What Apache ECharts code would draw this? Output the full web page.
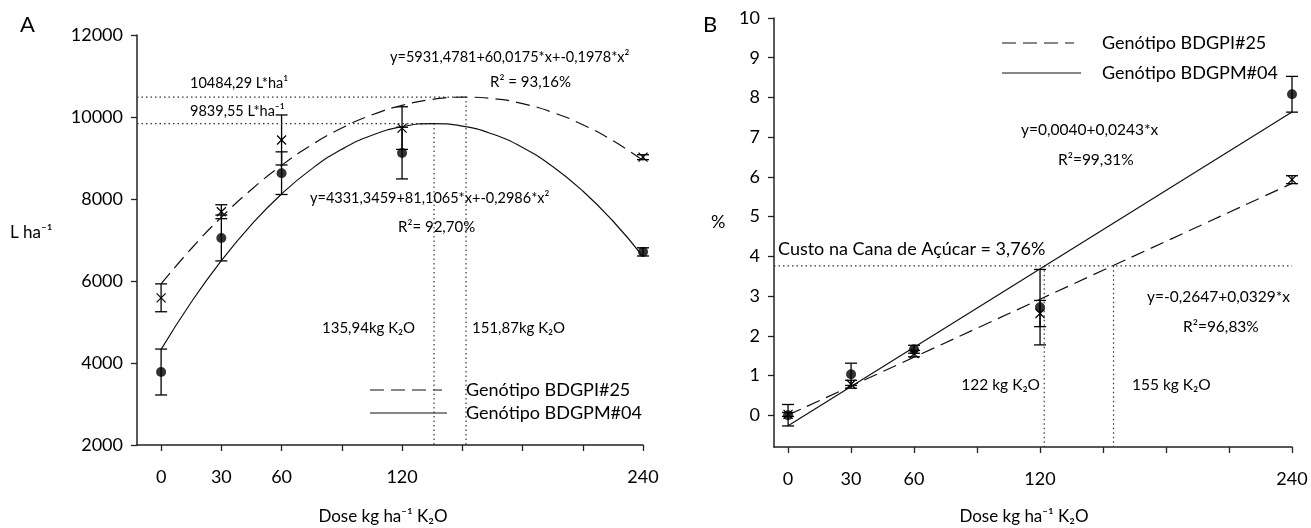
<!DOCTYPE html>
<html lang="pt">
<head>
  <meta charset="UTF-8">
  <title>Dose K2O</title>
  <script src="https://cdn.jsdelivr.net/npm/echarts@6/dist/echarts.min.js"></script>
  <style>
    * { margin: 0; padding: 0; }
    body { background: #fff; }
    #chart { width: 1311px; height: 528px; }
  </style>
</head>
<body>
  <div id="chart"></div>
  <script>
    // doses de K2O (kg/ha)
    const doses = [0, 30, 60, 120, 240];
    const xTicks = [0, 30, 60, 90, 120, 150, 180, 210, 240];
    const xLabels = [0, 30, 60, 120, 240];

    // painel A - L/ha (media e erro)
    const litrosM04 = [3780, 7050, 8630, 9120, 6710];
    const errLitrosM04 = [560, 560, 520, 630, 100];
    const litrosI25 = [5590, 7690, 9440, 9730, 9020];
    const errLitrosI25 = [340, 170, 610, 520, 60];

    // curvas ajustadas do painel A
    const doseCurva = [0, 15, 30, 45, 60, 75, 90, 105, 120, 135, 150, 165, 180, 195, 210, 225, 240];
    const curvaI25 = [5931, 6787, 7554, 8232, 8820, 9320, 9731, 10052, 10285, 10429, 10483, 10449, 10326, 10113, 9812, 9422, 8942];
    const curvaM04 = [4331, 5481, 6496, 7376, 8123, 8735, 9212, 9555, 9764, 9839, 9779, 9584, 9256, 8793, 8195, 7463, 6597];
    const maxI25 = [151.87, 10484.29];
    const maxM04 = [135.94, 9839.55];

    // painel B - %
    const yTicksB = [0, 1, 2, 3, 4, 5, 6, 7, 8, 9, 10];
    const custoM04 = [0, 1.03, 1.66, 2.72, 8.08];
    const errCustoM04 = [0.27, 0.28, 0.1, 0.95, 0.45];
    const custoI25 = [0.02, 0.78, 1.55, 2.56, 5.93];
    const errCustoI25 = [0.05, 0.1, 0.08, 0.33, 0.1];
    const doseReta = [0, 240];
    const retaI25 = [0.004, 5.836];
    const retaM04 = [-0.265, 7.631];
    const custoCana = 3.76;
    const doseCustoM04 = 122;
    const doseCustoI25 = 155;

    const fonte = 'Lato';
    const preto = '#000';

    var myChart = echarts.init(document.getElementById('chart'));

    function pares(xs, ys) {
      return xs.map((x, i) => [x, ys[i]]);
    }
    function comErro(ys, es) {
      return doses.map((x, i) => [x, ys[i], es[i]]);
    }

    function barraErro(params, api) {
      const x = api.value(0), y = api.value(1), e = api.value(2);
      const top = api.coord([x, y + e]);
      const bot = api.coord([x, y - e]);
      const w = 6;
      const st = { stroke: preto, lineWidth: 1.3 };
      return {
        type: 'group',
        children: [
          { type: 'line', shape: { x1: top[0], y1: top[1], x2: bot[0], y2: bot[1] }, style: st },
          { type: 'line', shape: { x1: top[0] - w, y1: top[1], x2: top[0] + w, y2: top[1] }, style: st },
          { type: 'line', shape: { x1: bot[0] - w, y1: bot[1], x2: bot[0] + w, y2: bot[1] }, style: st }
        ]
      };
    }

    function cruz(params, api) {
      const c = api.coord([api.value(0), api.value(1)]);
      const s = 4.5;
      const st = { stroke: preto, lineWidth: 1.2 };
      return {
        type: 'group',
        children: [
          { type: 'line', shape: { x1: c[0] - s, y1: c[1] - s, x2: c[0] + s, y2: c[1] + s }, style: st },
          { type: 'line', shape: { x1: c[0] - s, y1: c[1] + s, x2: c[0] + s, y2: c[1] - s }, style: st }
        ]
      };
    }

    const eixoLinha = { show: true, onZero: false, lineStyle: { color: '#222', width: 1.5 } };
    const eixoTick = { show: true, length: 6, lineStyle: { color: '#222', width: 1.3 } };
    const rotulo = { color: preto, fontSize: 18, fontFamily: fonte };

    function linha(data, xi, tracejado) {
      return {
        type: 'line', xAxisIndex: xi, yAxisIndex: xi, data: data,
        symbol: 'none', smooth: true, silent: true,
        lineStyle: { color: '#111', width: 1.2, type: tracejado ? [14, 7] : 'solid' }
      };
    }
    function pontilhado(data, xi) {
      return {
        type: 'line', xAxisIndex: xi, yAxisIndex: xi, data: data,
        symbol: 'none', silent: true,
        lineStyle: { color: '#333', width: 1.2, type: [1.5, 3] }
      };
    }

    function texto(txt, x, y, size, align) {
      return {
        type: 'text', x: x, y: y,
        style: {
          text: txt, fontSize: size, fontFamily: fonte, fill: preto,
          textAlign: align || 'left', textVerticalAlign: 'middle'
        }
      };
    }

    var option = {
      animation: false,
      grid: [
        { left: 137, top: 35, width: 506, height: 410 },
        { left: 774, top: 18, width: 518, height: 429 }
      ],
      xAxis: [
        {
          type: 'value', gridIndex: 0, min: -12, max: 240,
          axisLine: eixoLinha,
          axisTick: Object.assign({ customValues: xTicks }, eixoTick),
          axisLabel: Object.assign({ customValues: xLabels, margin: 23 }, rotulo),
          splitLine: { show: false }
        },
        {
          type: 'value', gridIndex: 1, min: -6.7, max: 240,
          axisLine: eixoLinha,
          axisTick: Object.assign({ customValues: xTicks }, eixoTick),
          axisLabel: Object.assign({ customValues: xLabels, margin: 23 }, rotulo),
          splitLine: { show: false }
        }
      ],
      yAxis: [
        {
          type: 'value', gridIndex: 0, min: 2000, max: 12000, interval: 2000,
          axisLine: eixoLinha, axisTick: eixoTick,
          axisLabel: Object.assign({ margin: 14, formatter: v => String(v) }, rotulo),
          splitLine: { show: false }
        },
        {
          type: 'value', gridIndex: 1, min: -0.8, max: 10,
          axisLine: eixoLinha,
          axisTick: Object.assign({ customValues: yTicksB }, eixoTick),
          axisLabel: Object.assign({ customValues: yTicksB, margin: 14 }, rotulo),
          splitLine: { show: false }
        }
      ],
      series: [
        // painel A
        pontilhado([[-12, maxI25[1]], maxI25, [maxI25[0], 2000]], 0),
        pontilhado([[-12, maxM04[1]], maxM04, [maxM04[0], 2000]], 0),
        linha(pares(doseCurva, curvaI25), 0, true),
        linha(pares(doseCurva, curvaM04), 0, false),
        { type: 'custom', xAxisIndex: 0, yAxisIndex: 0, renderItem: barraErro, data: comErro(litrosI25, errLitrosI25), silent: true },
        { type: 'custom', xAxisIndex: 0, yAxisIndex: 0, renderItem: barraErro, data: comErro(litrosM04, errLitrosM04), silent: true },
        { type: 'custom', xAxisIndex: 0, yAxisIndex: 0, renderItem: cruz, data: pares(doses, litrosI25), silent: true },
        { type: 'scatter', xAxisIndex: 0, yAxisIndex: 0, data: pares(doses, litrosM04), symbolSize: 10, itemStyle: { color: preto }, silent: true },
        // painel B
        pontilhado([[-6.7, custoCana], [240, custoCana]], 1),
        pontilhado([[doseCustoM04, custoCana], [doseCustoM04, -0.8]], 1),
        pontilhado([[doseCustoI25, custoCana], [doseCustoI25, -0.8]], 1),
        linha(pares(doseReta, retaI25), 1, true),
        linha(pares(doseReta, retaM04), 1, false),
        { type: 'custom', xAxisIndex: 1, yAxisIndex: 1, renderItem: barraErro, data: comErro(custoI25, errCustoI25), silent: true },
        { type: 'custom', xAxisIndex: 1, yAxisIndex: 1, renderItem: barraErro, data: comErro(custoM04, errCustoM04), silent: true },
        { type: 'custom', xAxisIndex: 1, yAxisIndex: 1, renderItem: cruz, data: pares(doses, custoI25), silent: true },
        { type: 'scatter', xAxisIndex: 1, yAxisIndex: 1, data: pares(doses, custoM04), symbolSize: 10, itemStyle: { color: preto }, silent: true }
      ],
      graphic: [
        // painel A
        texto('A', 20, 25, 22),
        texto('L ha⁻¹', 10, 233, 17),
        texto('10484,29 L*ha¹', 190, 83, 14.5),
        texto('9839,55 L*ha⁻¹', 190, 111, 14.5),
        texto('y=5931,4781+60,0175*x+-0,1978*x²', 390, 57, 14.5),
        texto('R² = 93,16%', 490, 82, 15),
        texto('y=4331,3459+81,1065*x+-0,2986*x²', 310, 198, 14.5),
        texto('R²= 92,70%', 398, 227, 15),
        texto('135,94kg K₂O', 322, 328, 15),
        texto('151,87kg K₂O', 472, 328, 15),
        { type: 'line', shape: { x1: 370, y1: 390, x2: 442, y2: 390 }, style: { stroke: '#111', lineWidth: 1.2, lineDash: [14, 7] } },
        { type: 'line', shape: { x1: 370, y1: 413, x2: 447, y2: 413 }, style: { stroke: '#111', lineWidth: 1.2 } },
        texto('Genótipo BDGPI#25', 466, 390, 18),
        texto('Genótipo BDGPM#04', 466, 413, 18),
        texto('Dose kg ha⁻¹ K₂O', 383, 517, 17, 'center'),
        // painel B
        texto('B', 703, 25, 22),
        texto('%', 711, 222, 18),
        { type: 'line', shape: { x1: 1002, y1: 43, x2: 1074, y2: 43 }, style: { stroke: '#111', lineWidth: 1.2, lineDash: [14, 7] } },
        { type: 'line', shape: { x1: 1002, y1: 73, x2: 1081, y2: 73 }, style: { stroke: '#111', lineWidth: 1.2 } },
        texto('Genótipo BDGPI#25', 1102, 43, 18),
        texto('Genótipo BDGPM#04', 1102, 73, 18),
        texto('y=0,0040+0,0243*x', 1021, 130, 15.5),
        texto('R²=99,31%', 1058, 160, 15.5),
        texto('Custo na Cana de Açúcar = 3,76%', 778, 249, 18),
        texto('y=-0,2647+0,0329*x', 1147, 297, 15.5),
        texto('R²=96,83%', 1183, 327, 15.5),
        texto('122 kg K₂O', 1040, 385, 15.5, 'right'),
        texto('155 kg K₂O', 1132, 385, 15.5),
        texto('Dose kg ha⁻¹ K₂O', 1024, 517, 17, 'center')
      ]
    };

    option && myChart.setOption(option);
  </script>
</body>
</html>
